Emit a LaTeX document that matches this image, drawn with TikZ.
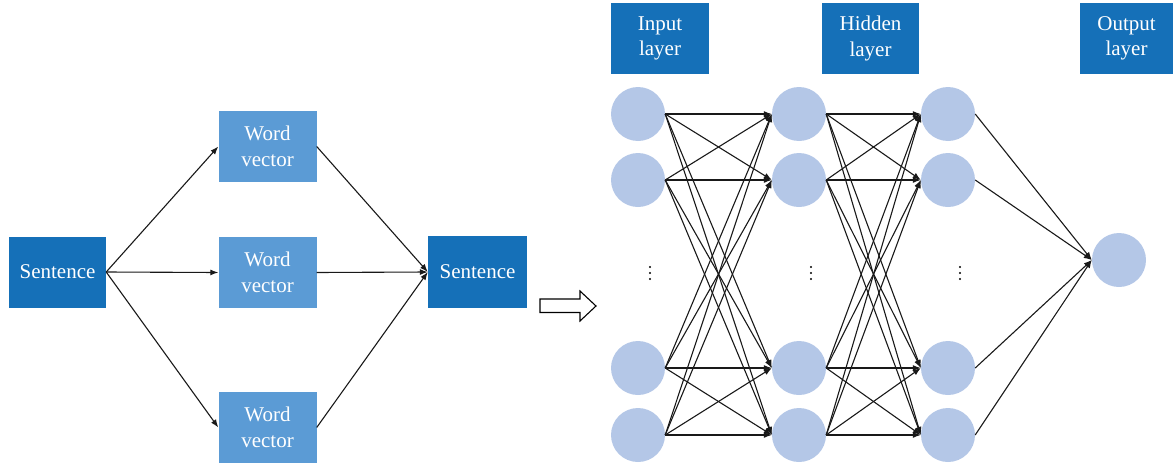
\documentclass[tikz,border=0pt]{standalone}
\usepackage{fontspec}
\setmainfont{Liberation Serif}
\usetikzlibrary{arrows.meta}
\definecolor{darkb}{HTML}{1570B8}
\definecolor{lightb}{HTML}{5B9BD5}
\definecolor{neur}{HTML}{B4C7E7}
\begin{document}
\begin{tikzpicture}[x=1pt,y=-1pt,
  box/.style={inner sep=0pt,minimum width=97pt,minimum height=71pt,text=white,align=center,font=\fontsize{21}{25.5}\selectfont},
  dbox/.style={box,fill=darkb},
  lbox/.style={box,fill=lightb},
  neuron/.style={circle,fill=neur,inner sep=0pt,minimum size=54pt},
  conn/.style={line width=1.1pt,draw=black!90,-{Latex[length=8pt,width=6pt]}},
  dot/.style={circle,fill=black,inner sep=0pt,minimum size=2.4pt}]
\useasboundingbox (0,0) rectangle (1173,466);
% left part
\node[dbox] (s1) at (57.5,272) {Sentence};
\node[lbox,minimum width=98pt] (w1) at (267.5,146.5) {Word\\vector};
\node[lbox,minimum width=98pt] (w2) at (267.5,272.5) {Word\\vector};
\node[lbox,minimum width=98pt] (w3) at (267.5,427.5) {Word\\vector};
\node[dbox,minimum width=99pt,minimum height=72pt] (s2) at (477.5,272) {Sentence};
\foreach \w in {w1,w2,w3}{
  \draw[conn] (s1.east) -- (\w.west);
  \draw[conn] (\w.east) -- (s2.west);
}
% hollow arrow
\draw[line width=1.1pt] (540,299) -- (580,299) -- (580,291) -- (596,306) -- (580,321) -- (580,312.5) -- (540,312.5) -- cycle;
% layer headers
\node[dbox,minimum width=98pt] (hin) at (660,38.5) {Input\\layer};
\node[dbox] (hhid) at (870.5,38.5) {Hidden\\layer};
\node[dbox,minimum width=93pt] (hout) at (1126.5,38.5) {Output\\layer};
% neurons
\foreach \c/\x in {a/638,b/799,c/948}{
  \foreach \r/\y in {1/114,2/180,3/368,4/435}{
    \node[neuron] (\c\r) at (\x,\y) {};
  }
}
\node[neuron] (o) at (1119,260) {};
% dots
\foreach \n/\x in {da/650,db/811,dc/960}{
  \node[dot] (\n1) at (\x,267) {};
  \node[dot] (\n2) at (\x,273) {};
  \node[dot] (\n3) at (\x,279) {};
}
% connections
\foreach \i in {1,2,3,4}{
  \foreach \j in {1,2,3,4}{
    \draw[conn] (a\i.east) -- (b\j.west);
    \draw[conn] (b\i.east) -- (c\j.west);
  }
  \draw[conn] (c\i.east) -- (o.west);
}
\end{tikzpicture}
\end{document}
